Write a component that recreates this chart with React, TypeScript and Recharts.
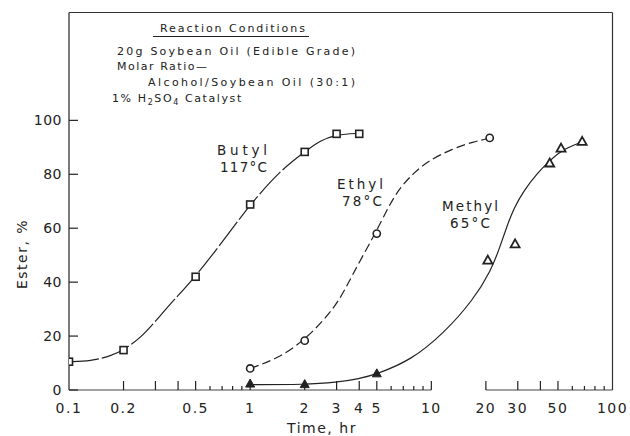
import React from 'react';
import { ComposedChart, Line, XAxis, YAxis, ReferenceLine } from 'recharts';

// ---- data ----
const butylTimes = [0.1, 0.2, 0.5, 1, 2, 3, 4];
const butylEster = [10.5, 14.8, 42, 68.8, 88.3, 95, 95];

const ethylTimes = [1, 2, 5, 21];
const ethylEster = [8, 18.3, 58, 93.5];

const methylFilledTimes = [1, 2, 5];
const methylFilledEster = [2.2, 2, 6];
const methylOpenTimes = [20.5, 29, 45, 52, 68];
const methylOpenEster = [48, 54, 84, 89.5, 92];

// fitted curves as drawn in the picture
const butylCurveT = [0.1, 0.132, 0.17, 0.2, 0.25, 0.3, 0.38, 0.5, 0.78, 1, 1.47, 2, 2.44, 3, 4];
const butylCurveE = [10.5, 10.7, 12.6, 14.8, 19.5, 25.5, 33.5, 42, 59, 68.8, 81.5, 88.3, 92.6, 94.8, 95.2];

const ethylCurveT = [1, 1.4, 2, 3, 3.58, 4.9, 5.8, 6.7, 8, 9.6, 13.2, 17, 21];
const ethylCurveE = [8, 11.5, 18.3, 31, 41.5, 58, 68, 75, 80.5, 85, 89.6, 92, 93.4];

const methylCurveT = [1, 2, 3, 4, 5, 7.7, 11.7, 17, 21.4, 23.9, 26.2, 28.6, 32.4, 38.4, 43.4, 52, 68];
const methylCurveE = [2, 2, 2.8, 4.2, 5.9, 11, 21, 33.3, 44.4, 53, 61, 67.5, 74, 80.3, 84, 89, 92];

const xLabeledTicks = [0.1, 0.2, 0.5, 1, 2, 3, 4, 5, 10, 20, 30, 50, 100];
const xTickLabels = ['0.1', '0.2', '0.5', '1', '2', '3', '4', '5', '10', '20', '30', '50', '100'];
const xLongTicks = [0.2, 0.3, 0.4, 0.5, 1, 2, 3, 4, 5, 10, 20, 30, 40, 50];
const xShortTicks = [0.6, 0.7, 0.8, 0.9, 6, 7, 8, 9, 60, 70, 80, 90];
const yTicks = [0, 20, 40, 60, 80, 100];

const zip = (xs: number[], ys: number[]) => xs.map((x, i) => ({ x, y: ys[i] }));

const butylPts = zip(butylTimes, butylEster);
const ethylPts = zip(ethylTimes, ethylEster);
const methylFilledPts = zip(methylFilledTimes, methylFilledEster);
const methylOpenPts = zip(methylOpenTimes, methylOpenEster);
const butylCurve = zip(butylCurveT, butylCurveE);
const ethylCurve = zip(ethylCurveT, ethylCurveE);
const methylCurve = zip(methylCurveT, methylCurveE);

const allXTicks = Array.from(new Set([...xLabeledTicks, ...xLongTicks, ...xShortTicks])).sort((a, b) => a - b);

const FONT = '"DejaVu Sans", sans-serif';
const INK = '#222';

function XTick(props: any) {
  const { x, y, payload } = props;
  const v = payload.value;
  const idx = xLabeledTicks.indexOf(v);
  const isLong = xLongTicks.includes(v);
  const isShort = xShortTicks.includes(v);
  const len = isLong ? 9 : isShort ? 4 : 0;
  return (
    <g>
      {len > 0 && <line x1={x} x2={x} y1={y} y2={y - len} stroke={INK} strokeWidth={1.2} />}
      {idx >= 0 && (
        <text x={x} y={y + 23} textAnchor="middle" fontFamily={FONT} fontSize={14} fill={INK} letterSpacing={1.5}>
          {xTickLabels[idx]}
        </text>
      )}
    </g>
  );
}

function YTick(props: any) {
  const { x, y, payload } = props;
  return (
    <g>
      <line x1={x} x2={x + 9} y1={y} y2={y} stroke={INK} strokeWidth={1.2} />
      <text x={x - 7} y={y + 5} textAnchor="end" fontFamily={FONT} fontSize={14} fill={INK} letterSpacing={0.5}>
        {payload.value}
      </text>
    </g>
  );
}

const squareDot = (p: any) => (
  <rect key={`s${p.index}`} x={p.cx - 3.5} y={p.cy - 3.5} width={7} height={7} fill="#fff" stroke={INK} strokeWidth={1.6} />
);
const circleDot = (p: any) => (
  <circle key={`c${p.index}`} cx={p.cx} cy={p.cy} r={3.6} fill="#fff" stroke={INK} strokeWidth={1.6} />
);
const triFilledDot = (p: any) => (
  <path key={`tf${p.index}`} d={`M${p.cx},${p.cy - 5} L${p.cx + 4.5},${p.cy + 3} L${p.cx - 4.5},${p.cy + 3} Z`} fill={INK} stroke={INK} strokeWidth={1} />
);
const triOpenDot = (p: any) => (
  <path key={`to${p.index}`} d={`M${p.cx},${p.cy - 5} L${p.cx + 4.5},${p.cy + 3} L${p.cx - 4.5},${p.cy + 3} Z`} fill="#fff" stroke={INK} strokeWidth={1.8} />
);

export default function App() {
  return (
    <div style={{ position: 'absolute', left: 0, top: 0, width: 630, height: 436, background: '#fff' }}>
      <ComposedChart
        width={630}
        height={436}
        margin={{ top: 12.5, right: 17.5, bottom: 16, left: 9 }}
      >
        <XAxis
          dataKey="x"
          type="number"
          scale="log"
          domain={[0.1, 100]}
          ticks={allXTicks}
          interval={0}
          allowDataOverflow
          axisLine={false}
          tickLine={false}
          tickSize={0}
          tickMargin={0}
          height={30}
          tick={<XTick />}
        />
        <YAxis
          type="number"
          domain={[0, 140]}
          ticks={yTicks}
          interval={0}
          width={60}
          axisLine={{ stroke: INK, strokeWidth: 1.2 }}
          tickLine={false}
          tickSize={0}
          tickMargin={0}
          tick={<YTick />}
        />
        <ReferenceLine segment={[{ x: 0.1, y: 0 }, { x: 10, y: 0 }]} stroke="#444" strokeWidth={1} />
        <ReferenceLine segment={[{ x: 20, y: 0 }, { x: 100, y: 0 }]} stroke="#444" strokeWidth={1} />
        <ReferenceLine segment={[{ x: 0.1, y: 140 }, { x: 100, y: 140 }]} stroke="#333" strokeWidth={1.2} />
        <ReferenceLine segment={[{ x: 100, y: 0 }, { x: 100, y: 140 }]} stroke="#333" strokeWidth={1.2} />

        <Line data={butylCurve} dataKey="y" type="basis" stroke={INK} strokeWidth={1.2} strokeDasharray="30 3" dot={false} activeDot={false} isAnimationActive={false} />
        <Line data={ethylCurve} dataKey="y" type="basis" stroke={INK} strokeWidth={1.2} strokeDasharray="9 4" dot={false} activeDot={false} isAnimationActive={false} />
        <Line data={methylCurve} dataKey="y" type="basis" stroke={INK} strokeWidth={1.2} dot={false} activeDot={false} isAnimationActive={false} />

        <Line data={butylPts} dataKey="y" stroke="none" dot={squareDot} activeDot={false} isAnimationActive={false} />
        <Line data={ethylPts} dataKey="y" stroke="none" dot={circleDot} activeDot={false} isAnimationActive={false} />
        <Line data={methylFilledPts} dataKey="y" stroke="none" dot={triFilledDot} activeDot={false} isAnimationActive={false} />
        <Line data={methylOpenPts} dataKey="y" stroke="none" dot={triOpenDot} activeDot={false} isAnimationActive={false} />
      </ComposedChart>

      <svg width={630} height={436} style={{ position: 'absolute', left: 0, top: 0, pointerEvents: 'none' }}>
        <g fontFamily={FONT} fill={INK}>
          <text x={160} y={32} fontSize={11} textLength={145} lengthAdjust="spacing">Reaction Conditions</text>
          <line x1={153} x2={309} y1={36.5} y2={36.5} stroke={INK} strokeWidth={1} />
          <text x={117} y={54.5} fontSize={11} textLength={238} lengthAdjust="spacing">20g Soybean Oil (Edible Grade)</text>
          <text x={117} y={70} fontSize={11} textLength={90} lengthAdjust="spacing">Molar Ratio—</text>
          <text x={148} y={86} fontSize={11} textLength={207} lengthAdjust="spacing">Alcohol/Soybean Oil (30:1)</text>
          <text x={112} y={101.5} fontSize={11} letterSpacing={1.6}>
            1% H<tspan dy={3} fontSize={8}>2</tspan><tspan dy={-3}>SO</tspan><tspan dy={3} fontSize={8}>4</tspan><tspan dy={-3}> Catalyst</tspan>
          </text>

          <text x={217} y={155} fontSize={13.5} textLength={50} lengthAdjust="spacing">Butyl</text>
          <text x={220} y={172} fontSize={13.5} textLength={47} lengthAdjust="spacing">117°C</text>
          <text x={337} y={189} fontSize={13.5} textLength={46} lengthAdjust="spacing">Ethyl</text>
          <text x={342} y={206} fontSize={13.5} textLength={40} lengthAdjust="spacing">78°C</text>
          <text x={442} y={211} fontSize={13.5} textLength={56} lengthAdjust="spacing">Methyl</text>
          <text x={450} y={228} fontSize={13.5} textLength={40} lengthAdjust="spacing">65°C</text>

          <text x={322} y={433} fontSize={14} textAnchor="middle" letterSpacing={1.5}>Time, hr</text>
          <text x={0} y={0} fontSize={14} textAnchor="middle" letterSpacing={1.5} transform="translate(27,254) rotate(-90)">Ester, %</text>
        </g>
      </svg>
    </div>
  );
}
